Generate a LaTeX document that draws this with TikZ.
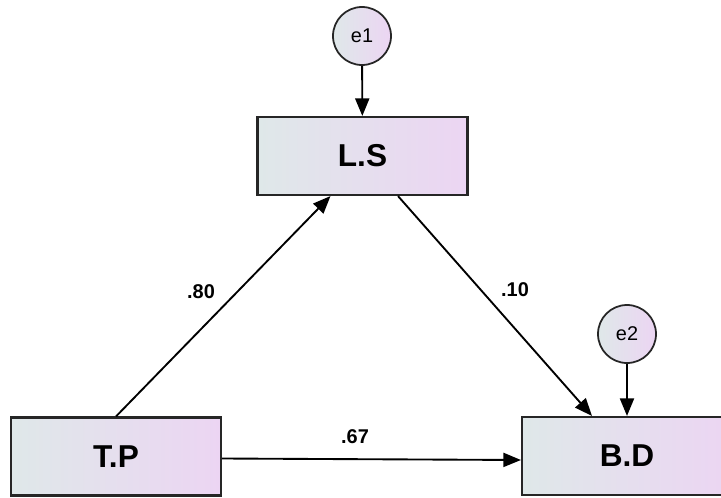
\documentclass[tikz,border=0pt]{standalone}
\usepackage{fontspec}
\setmainfont{Liberation Sans}
\usetikzlibrary{arrows.meta}
\definecolor{boxleft}{HTML}{DFE8E9}
\definecolor{boxright}{HTML}{ECD5F3}

\begin{document}
\begin{tikzpicture}[x=0.03cm,y=-0.03cm,
  var/.style={draw=black!85,line width=1.8pt,left color=boxleft,right color=boxright,
    minimum width=6.3cm,minimum height=2.34cm,inner sep=0pt,
    font=\fontsize{27}{30}\selectfont\bfseries},
  err/.style={circle,draw=black!85,line width=1.5pt,left color=boxleft,right color=boxright,
    minimum size=1.74cm,inner sep=0pt,font=\fontsize{17}{19}\selectfont},
  link/.style={-{Triangle[length=15pt,width=12pt]},line width=1.6pt},
  coef/.style={font=\fontsize{17}{20}\selectfont\bfseries}]
  \useasboundingbox (0,0) rectangle (721,497);

  % Observed variables
  \node[var] (LS) at (362.5,156) {L.S};
  \node[var] (TP) at (116,456.5) {T.P};
  \node[var] (BD) at (627,456) {B.D};

  % Error terms
  \node[err] (e1) at (362,36) {e1};
  \node[err] (e2) at (627,334) {e2};

  % Paths
  \draw[link] (e1) -- (LS);
  \draw[link] (e2) -- (BD);
  \draw[link] (TP.north) -- ([xshift=-0.96cm]LS.south);
  \draw[link] ([xshift=1.065cm]LS.south) -- ([xshift=-1.05cm]BD.north);
  \draw[link] ([yshift=-0.06cm]TP.east) -- ([yshift=-0.12cm]BD.west);

  % Coefficients
  \node[coef] (c80) at (201,292) {.80};
  \node[coef] (c10) at (515,290) {.10};
  \node[coef] (c67) at (355,437) {.67};
\end{tikzpicture}
\end{document}
